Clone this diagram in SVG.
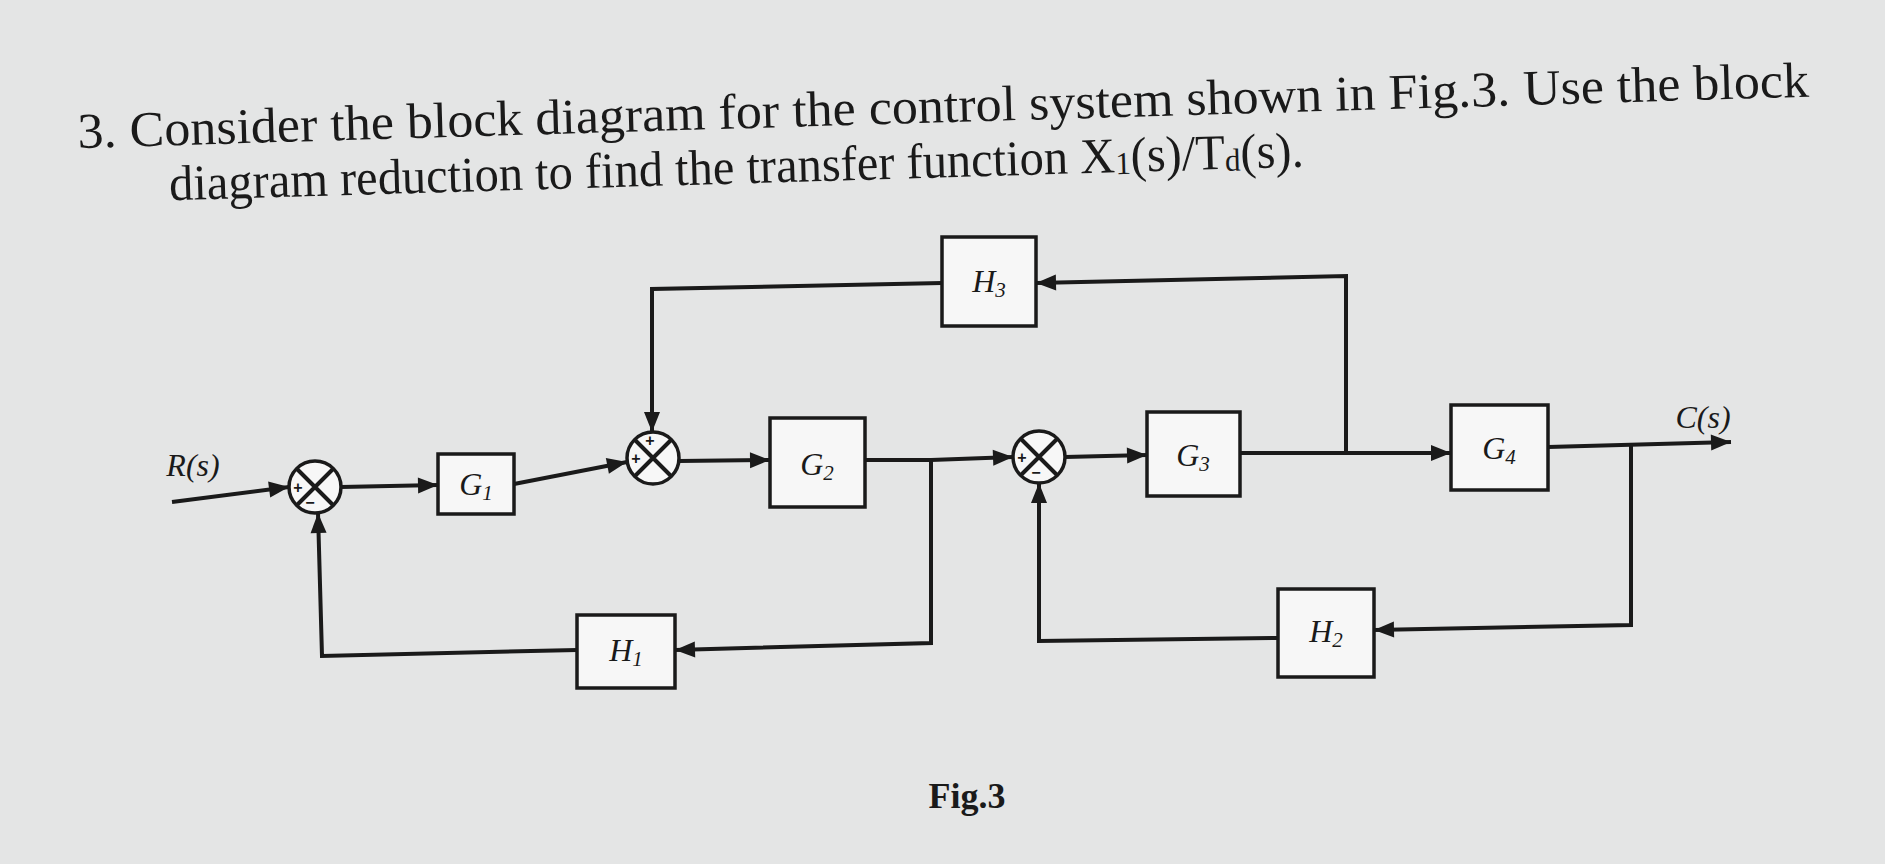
<svg xmlns="http://www.w3.org/2000/svg" width="1885" height="864" viewBox="0 0 1885 864">
<defs>
<marker id="a" viewBox="0 0 10 10" refX="10" refY="5" markerWidth="7" markerHeight="5" orient="auto" markerUnits="strokeWidth"><path d="M0,1 L10,5 L0,9 Z" fill="#1a1a1a"/></marker>
<style>
.l{fill:none;stroke:#1a1a1a;stroke-width:4}
.b{fill:#f7f7f7;stroke:#1a1a1a;stroke-width:3.5}
.t{font-family:"Liberation Serif",serif;font-style:italic;font-size:32px;fill:#1a1a1a;text-anchor:middle}
.s{font-family:"Liberation Sans",sans-serif;font-size:16px;font-weight:bold;fill:#1a1a1a;text-anchor:middle}
.q{font-family:"Liberation Serif",serif;font-size:50px;fill:#1a1a1a}
</style>
</defs>
<rect width="1885" height="864" fill="#e4e5e5"/>
<g transform="rotate(-1.7 78 148)">
<text class="q" x="78" y="148" textLength="1732" lengthAdjust="spacingAndGlyphs">3.  Consider the block diagram for the control system shown in Fig.3. Use the block</text>
<text class="q" x="168" y="203" textLength="1135" lengthAdjust="spacingAndGlyphs">diagram reduction to find the transfer function X<tspan font-size="32" dy="2">1</tspan><tspan dy="-2">(s)/T</tspan><tspan font-size="32" dy="2">d</tspan><tspan dy="-2">(s).</tspan></text>
</g>
<g id="connectors">
<path class="l" marker-end="url(#a)" d="M172,502 L289,487"/>
<path class="l" marker-end="url(#a)" d="M341,487 L438,485"/>
<path class="l" marker-end="url(#a)" d="M514,484 L627,462"/>
<path class="l" marker-end="url(#a)" d="M679,461 L770,460"/>
<path class="l" marker-end="url(#a)" d="M865,460 L931,460 L1013,457"/>
<path class="l" marker-end="url(#a)" d="M931,460 L931,643 L675,650"/>
<path class="l" marker-end="url(#a)" d="M577,650 L322,656 L318,513"/>
<path class="l" marker-end="url(#a)" d="M1065,457 L1147,455"/>
<path class="l" marker-end="url(#a)" d="M1240,453 L1451,453"/>
<path class="l" marker-end="url(#a)" d="M1346,453 L1346,276 L1036,283"/>
<path class="l" marker-end="url(#a)" d="M942,283 L652,289 L652,432"/>
<path class="l" marker-end="url(#a)" d="M1548,447 L1731,442"/>
<path class="l" marker-end="url(#a)" d="M1631,446 L1631,625 L1374,630"/>
<path class="l" marker-end="url(#a)" d="M1278,638 L1039,641 L1039,483"/>
</g>
<g id="sum1"><circle class="b" cx="315" cy="487" r="26"/><path class="l" d="M297,469 L333,505 M333,469 L297,505" stroke-width="3"/><text class="s" x="298" y="493">+</text><text class="s" x="310" y="508">−</text></g>
<g id="sum2"><circle class="b" cx="653" cy="458" r="26"/><path class="l" d="M635,440 L671,476 M671,440 L635,476" stroke-width="3"/><text class="s" x="636" y="464">+</text><text class="s" x="650" y="446">+</text></g>
<g id="sum3"><circle class="b" cx="1039" cy="457" r="26"/><path class="l" d="M1021,439 L1057,475 M1057,439 L1021,475" stroke-width="3"/><text class="s" x="1022" y="463">+</text><text class="s" x="1036" y="478">−</text></g>
<g id="G1"><rect class="b" x="438" y="454" width="76" height="60"/><text class="t" x="476" y="495">G<tspan font-size="21" dy="5">1</tspan></text></g>
<g id="G2"><rect class="b" x="770" y="418" width="95" height="89"/><text class="t" x="817" y="475">G<tspan font-size="21" dy="5">2</tspan></text></g>
<g id="G3"><rect class="b" x="1147" y="412" width="93" height="84"/><text class="t" x="1193" y="466">G<tspan font-size="21" dy="5">3</tspan></text></g>
<g id="G4"><rect class="b" x="1451" y="405" width="97" height="85"/><text class="t" x="1499" y="459">G<tspan font-size="21" dy="5">4</tspan></text></g>
<g id="H3"><rect class="b" x="942" y="237" width="94" height="89"/><text class="t" x="989" y="292">H<tspan font-size="21" dy="5">3</tspan></text></g>
<g id="H1"><rect class="b" x="577" y="615" width="98" height="73"/><text class="t" x="626" y="661">H<tspan font-size="21" dy="5">1</tspan></text></g>
<g id="H2"><rect class="b" x="1278" y="589" width="96" height="88"/><text class="t" x="1326" y="642">H<tspan font-size="21" dy="5">2</tspan></text></g>
<text class="t" x="193" y="476" font-size="24">R(s)</text>
<text class="t" x="1703" y="428" font-size="24">C(s)</text>
<text x="967" y="808" font-family="Liberation Serif,serif" font-weight="bold" font-size="36" text-anchor="middle" fill="#1a1a1a">Fig.3</text>
</svg>
